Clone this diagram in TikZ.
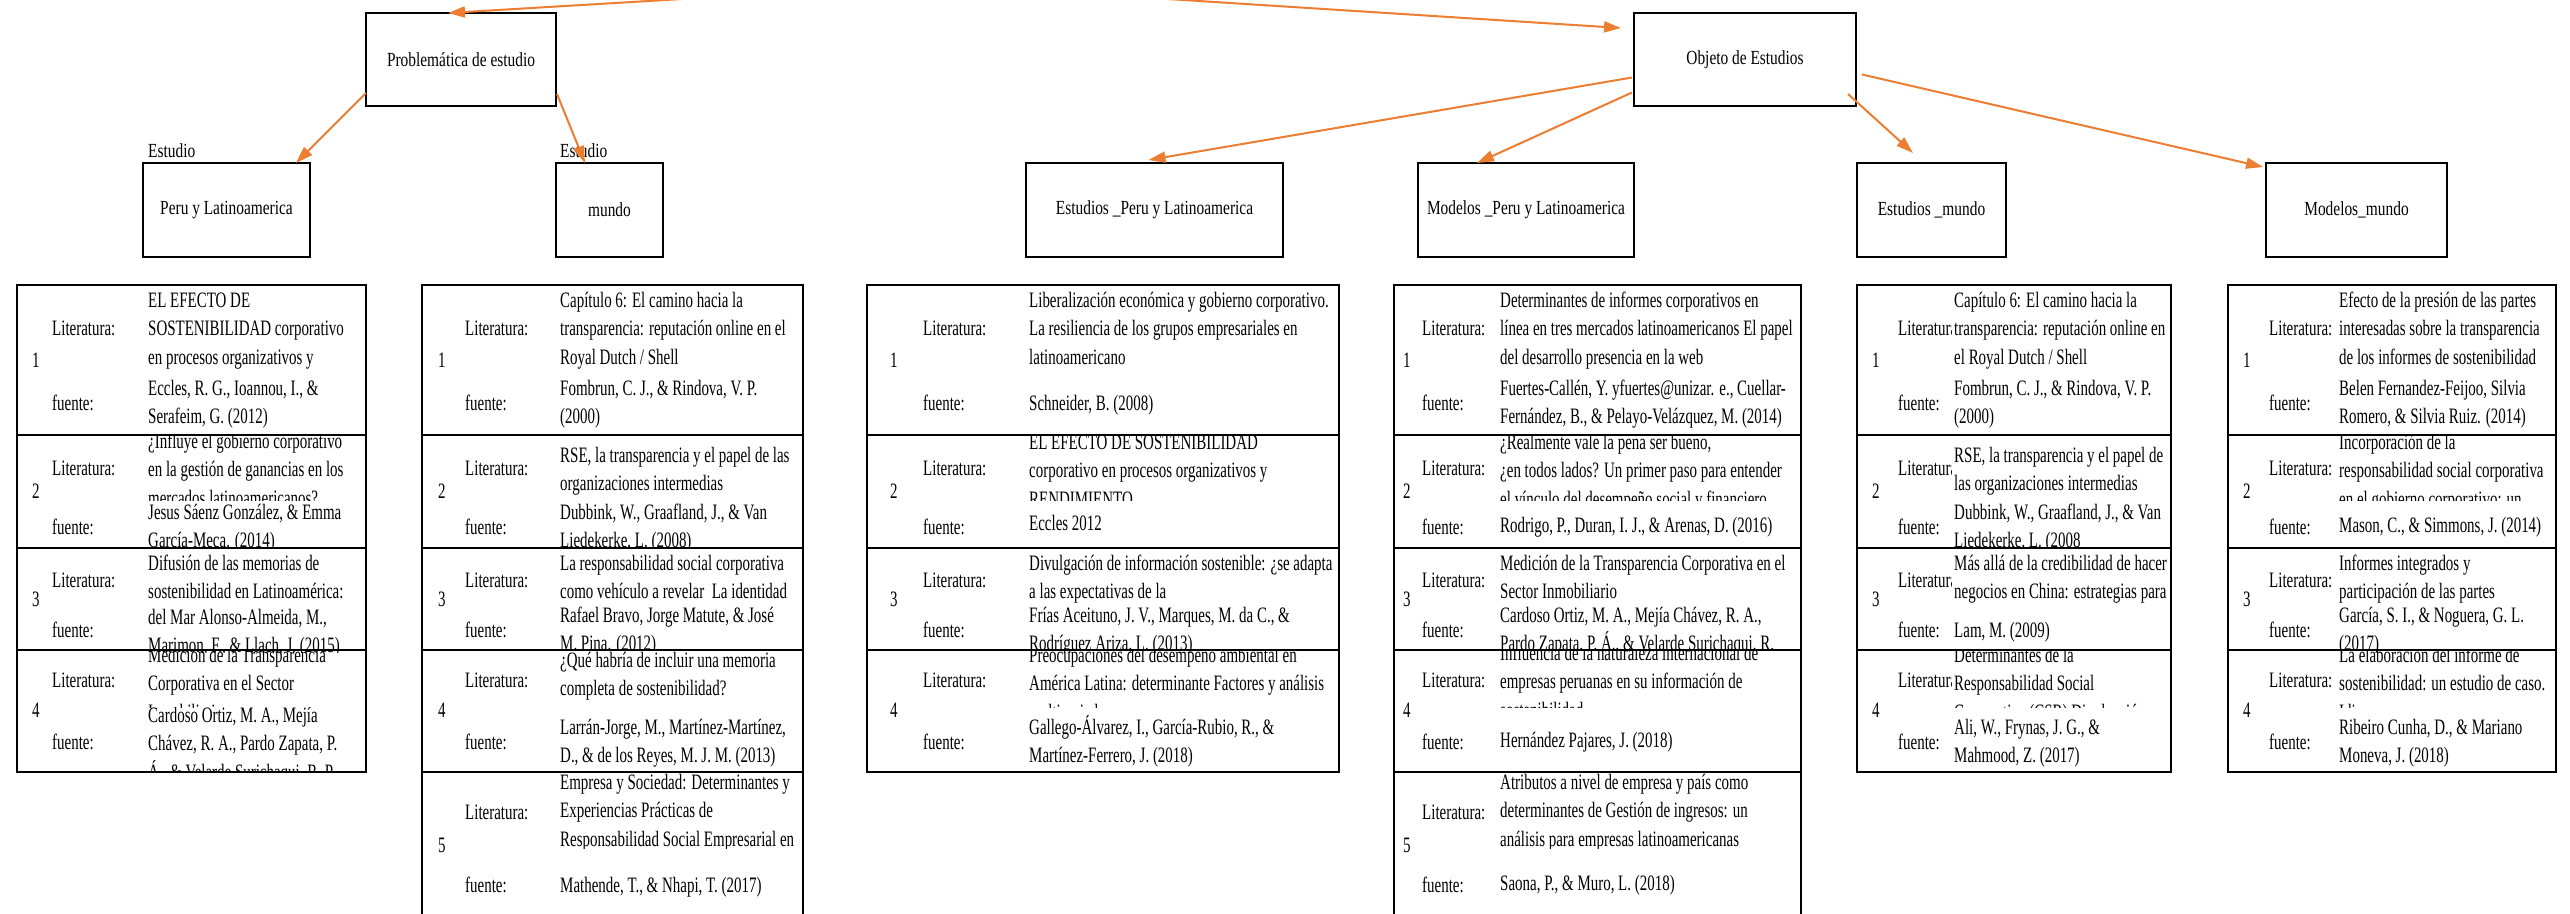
\documentclass[tikz,border=0pt]{standalone}
\usepackage{fontspec}
\setmainfont{Liberation Serif}
\newfontfamily\tabf{Liberation Serif}[FakeStretch=0.68]
\newfontfamily\hdf{Liberation Serif}[FakeStretch=0.77]
\usetikzlibrary{arrows.meta,calc}
\definecolor{orng}{HTML}{ED7D31}
\tikzset{
  hbox/.style={draw, line width=2.5pt, inner sep=0pt, outer sep=0pt, font=\hdf\fontsize{20}{24}\selectfont},
  hlab/.style={anchor=west, inner sep=0pt, font=\hdf\fontsize{20}{24}\selectfont},
  arr/.style={draw=orng, line width=2pt, -{Triangle[length=17pt,width=11pt]}},
  txt/.style={anchor=north west, inner sep=0pt, align=left, font=\tabf\fontsize{22}{28.5}\selectfont},
  lbl/.style={anchor=west, inner sep=0pt, font=\tabf\fontsize{22}{28.5}\selectfont},
  tb/.style={line width=2.5pt, line cap=rect},
}
\newcommand\ctext[7]{\begin{scope}\clip (#2-3,#3) rectangle (#4,#5);\node[txt] (#1) at (#2,{#6-13}) {\strut #7};\end{scope}}
\newcommand\tlabels[4]{\foreach \n/\yl/\yf/\yn in #4 {\node[lbl] (#1n\n) at (#2,\yn) {\n};\node[lbl] (#1l\n) at (#3,\yl) {Literatura:};\node[lbl] (#1f\n) at (#3,\yf) {fuente:};}}
\newcommand\rowsA{1/328/403/360,2/468/527/491,3/580/630/599,4/680/742/710}
\newcommand\rowsB{1/328/403/360,2/468/527/491,3/580/630/599,4/680/742/710,5/812/885/845}
\newcommand\tframe[3]{\draw[tb] (#1,285) -- (#1,#3) (#2,285) -- (#2,#3); \foreach \yy in {285,435,548,650,772} {\draw[tb] (#1,\yy) -- (#2,\yy);}\draw[tb] (#1,#3) -- (#2,#3);}
\begin{document}
\begin{tikzpicture}[x=1pt,y=-1pt]
\useasboundingbox (0,0) rectangle (2570,913);
\clip (0,0) rectangle (2570,913);
\fill[white] (0,0) rectangle (2570,913);

% ---------- header boxes ----------
\node[hbox, minimum width=190pt, minimum height=93pt] (prob) at (461,59.5) {Problemática de estudio};
\node[hbox, minimum width=222pt, minimum height=93pt] (obj) at (1745,59.5) {Objeto de Estudios};
\node[hbox, minimum width=167pt, minimum height=94pt] (peru) at (226.5,210) {Peru y Latinoamerica};
\node[hbox, minimum width=107pt, minimum height=94pt] (mundo) at (609.5,210) {mundo};
\node[hbox, minimum width=257pt, minimum height=94pt] (estperu) at (1154.5,210) {Estudios \_Peru y Latinoamerica};
\node[hbox, minimum width=216pt, minimum height=94pt] (modperu) at (1526,210) {Modelos \_Peru y Latinoamerica};
\node[hbox, minimum width=149pt, minimum height=94pt] (estmundo) at (1931.5,210) {Estudios \_mundo};
\node[hbox, minimum width=181pt, minimum height=94pt] (modmundo) at (2356.5,210) {Modelos\_mundo};
\node[hlab] (est1) at (148,151) {Estudio};
\node[hlab] (est2) at (560,151) {Estudio};

% ---------- arrows ----------
\coordinate (root) at (933,-16);
\draw[arr] (root) -- ($(prob.north west)+(82,0)$);
\draw[arr] (root) -- ($(obj.north west)+(-13,15)$);
\draw[arr] ($(prob.south west)+(0,-13)$) -- ($(peru.north east)+(-14,0)$);
\draw[arr] ($(prob.south east)+(1,-12)$) -- ($(mundo.north west)+(29,0)$);
\draw[arr] ($(obj.west)+(-2,18)$) -- ($(estperu.north)+(-6,-3)$);
\draw[arr] ($(obj.west)+(-2,33)$) -- ($(modperu.north west)+(59,0)$);
\coordinate (emtip) at ($(estmundo.north west)+(56,-10)$);
\draw[arr] ($(obj.south east)+(-8,-12)$) -- (emtip);
\draw[arr] ($(obj.east)+(6,15)$) -- ($(modmundo.north west)+(-3,4)$);

% ---------- table 1 ----------
\tlabels{t1}{32}{52}{\rowsA}
\ctext{t1a}{148}{285}{366}{371}{300}{EL EFECTO DE\\SOSTENIBILIDAD corporativo\\en procesos organizativos y}
\ctext{t1b}{148}{371}{366}{435}{388}{Eccles, R. G., Ioannou, I., \&\\Serafeim, G. (2012)}
\ctext{t1c}{148}{435}{366}{500}{441}{¿Influye el gobierno corporativo\\en la gestión de ganancias en los\\mercados latinoamericanos?}
\ctext{t1d}{148}{500}{366}{548}{512}{Jesus Sáenz González, \& Emma\\García-Meca. (2014)}
\ctext{t1e}{148}{548}{366}{604}{563}{Difusión de las memorias de\\sostenibilidad en Latinoamérica:}
\ctext{t1f}{148}{604}{366}{652}{617}{del Mar Alonso-Almeida, M.,\\Marimon, F., \& Llach, J. (2015)}
\ctext{t1g}{148}{650}{366}{707}{655}{Medición de la Transparencia\\Corporativa en el Sector\\Inmobiliario}
\ctext{t1h}{148}{707}{366}{772}{715}{Cardoso Ortiz, M. A., Mejía\\Chávez, R. A., Pardo Zapata, P.\\Á., \& Velarde Surichaqui, R. P.}
\tframe{17}{366}{772}

% ---------- table 2 ----------
\tlabels{t2}{438}{465}{\rowsB}
\ctext{t2a}{560}{285}{803}{371}{300}{Capítulo 6: El camino hacia la\\transparencia: reputación online en el\\Royal Dutch / Shell}
\ctext{t2b}{560}{371}{803}{435}{388}{Fombrun, C. J., \& Rindova, V. P.\\(2000)}
\ctext{t2c}{560}{435}{803}{500}{455}{RSE, la transparencia y el papel de las\\organizaciones intermedias}
\ctext{t2d}{560}{500}{803}{548}{512}{Dubbink, W., Graafland, J., \& Van\\Liedekerke, L. (2008)}
\ctext{t2e}{560}{548}{803}{604}{563}{La responsabilidad social corporativa\\como vehículo a revelar\ \ La identidad}
\ctext{t2f}{560}{604}{803}{650}{615}{Rafael Bravo, Jorge Matute, \& José\\M. Pina. (2012)}
\ctext{t2g}{560}{650}{803}{707}{660}{¿Qué habría de incluir una memoria\\completa de sostenibilidad?}
\ctext{t2h}{560}{707}{803}{772}{727}{Larrán-Jorge, M., Martínez-Martínez,\\D., \& de los Reyes, M. J. M. (2013)}
\ctext{t2i}{560}{772}{803}{848}{782}{Empresa y Sociedad: Determinantes y\\Experiencias Prácticas de\\Responsabilidad Social Empresarial en}
\ctext{t2j}{560}{848}{803}{916}{885}{Mathende, T., \& Nhapi, T. (2017)}
\tframe{422}{803}{916}

% ---------- table 3 ----------
\tlabels{t3}{890}{923}{\rowsA}
\ctext{t3a}{1029}{285}{1339}{371}{300}{Liberalización económica y gobierno corporativo.\\La resiliencia de los grupos empresariales en\\latinoamericano}
\ctext{t3b}{1029}{371}{1339}{435}{403}{Schneider, B. (2008)}
\ctext{t3c}{1029}{435}{1339}{500}{442}{EL EFECTO DE SOSTENIBILIDAD\\corporativo en procesos organizativos y\\RENDIMIENTO}
\ctext{t3d}{1029}{500}{1339}{548}{523}{Eccles 2012}
\ctext{t3e}{1029}{548}{1339}{604}{563}{Divulgación de información sostenible: ¿se adapta\\a las expectativas de la}
\ctext{t3f}{1029}{604}{1339}{652}{615}{Frías Aceituno, J. V., Marques, M. da C., \&\\Rodríguez Ariza, L. (2013)}
\ctext{t3g}{1029}{650}{1339}{707}{655}{Preocupaciones del desempeño ambiental en\\América Latina: determinante Factores y análisis\\multivariado}
\ctext{t3h}{1029}{707}{1339}{772}{727}{Gallego-Álvarez, I., García-Rubio, R., \&\\Martínez-Ferrero, J. (2018)}
\tframe{867}{1339}{772}

% ---------- table 4 ----------
\tlabels{t4}{1403}{1422}{\rowsB}
\ctext{t4a}{1500}{285}{1801}{371}{300}{Determinantes de informes corporativos en\\línea en tres mercados latinoamericanos El papel\\del desarrollo presencia en la web}
\ctext{t4b}{1500}{371}{1801}{435}{388}{Fuertes-Callén, Y. yfuertes@unizar. e., Cuellar-\\Fernández, B., \& Pelayo-Velázquez, M. (2014)}
\ctext{t4c}{1500}{435}{1801}{500}{442}{¿Realmente vale la pena ser bueno,\\¿en todos lados? Un primer paso para entender\\el vínculo del desempeño social y financiero}
\ctext{t4d}{1500}{500}{1801}{548}{525}{Rodrigo, P., Duran, I. J., \& Arenas, D. (2016)}
\ctext{t4e}{1500}{548}{1801}{604}{563}{Medición de la Transparencia Corporativa en el\\Sector Inmobiliario}
\ctext{t4f}{1500}{604}{1801}{650}{615}{Cardoso Ortiz, M. A., Mejía Chávez, R. A.,\\Pardo Zapata, P. Á., \& Velarde Surichaqui, R.}
\ctext{t4g}{1500}{650}{1801}{707}{653}{Influencia de la naturaleza internacional de\\empresas peruanas en su información de\\sostenibilidad}
\ctext{t4h}{1500}{707}{1801}{772}{740}{Hernández Pajares, J. (2018)}
\ctext{t4i}{1500}{772}{1801}{848}{782}{Atributos a nivel de empresa y país como\\determinantes de Gestión de ingresos: un\\análisis para empresas latinoamericanas}
\ctext{t4j}{1500}{848}{1801}{916}{883}{Saona, P., \& Muro, L. (2018)}
\tframe{1394}{1801}{916}

% ---------- table 5 ----------
\begin{scope}
\clip (1857,285) rectangle (1951,772);
\tlabels{t5}{1872}{1898}{\rowsA}
\end{scope}
\ctext{t5a}{1954}{285}{2171}{371}{300}{Capítulo 6: El camino hacia la\\transparencia: reputación online en\\el Royal Dutch / Shell}
\ctext{t5b}{1954}{371}{2171}{435}{388}{Fombrun, C. J., \& Rindova, V. P.\\(2000)}
\ctext{t5c}{1954}{435}{2171}{500}{455}{RSE, la transparencia y el papel de\\las organizaciones intermedias}
\ctext{t5d}{1954}{500}{2171}{548}{512}{Dubbink, W., Graafland, J., \& Van\\Liedekerke, L. (2008}
\ctext{t5e}{1954}{548}{2171}{604}{563}{Más allá de la credibilidad de hacer\\negocios en China: estrategias para}
\ctext{t5f}{1954}{604}{2171}{650}{630}{Lam, M. (2009)}
\ctext{t5g}{1954}{650}{2171}{707}{655}{Determinantes de la\\Responsabilidad Social\\Corporativa (CSR) Divulgación en}
\ctext{t5h}{1954}{707}{2171}{772}{727}{Ali, W., Frynas, J. G., \&\\Mahmood, Z. (2017)}
\tframe{1857}{2171}{772}

% ---------- table 6 ----------
\tlabels{t6}{2243}{2269}{\rowsA}
\ctext{t6a}{2339}{285}{2556}{371}{300}{Efecto de la presión de las partes\\interesadas sobre la transparencia\\de los informes de sostenibilidad}
\ctext{t6b}{2339}{371}{2556}{435}{388}{Belen Fernandez-Feijoo, Silvia\\Romero, \& Silvia Ruiz. (2014)}
\ctext{t6c}{2339}{435}{2556}{500}{442}{Incorporación de la\\responsabilidad social corporativa\\en el gobierno corporativo: un}
\ctext{t6d}{2339}{500}{2556}{548}{525}{Mason, C., \& Simmons, J. (2014)}
\ctext{t6e}{2339}{548}{2556}{604}{563}{Informes integrados y\\participación de las partes}
\ctext{t6f}{2339}{604}{2556}{652}{615}{García, S. I., \& Noguera, G. L.\\(2017)}
\ctext{t6g}{2339}{650}{2556}{707}{655}{La elaboración del informe de\\sostenibilidad: un estudio de caso.\\Idioma:}
\ctext{t6h}{2339}{707}{2556}{772}{727}{Ribeiro Cunha, D., \& Mariano\\Moneva, J. (2018)}
\tframe{2228}{2556}{772}
\end{tikzpicture}
\end{document}
